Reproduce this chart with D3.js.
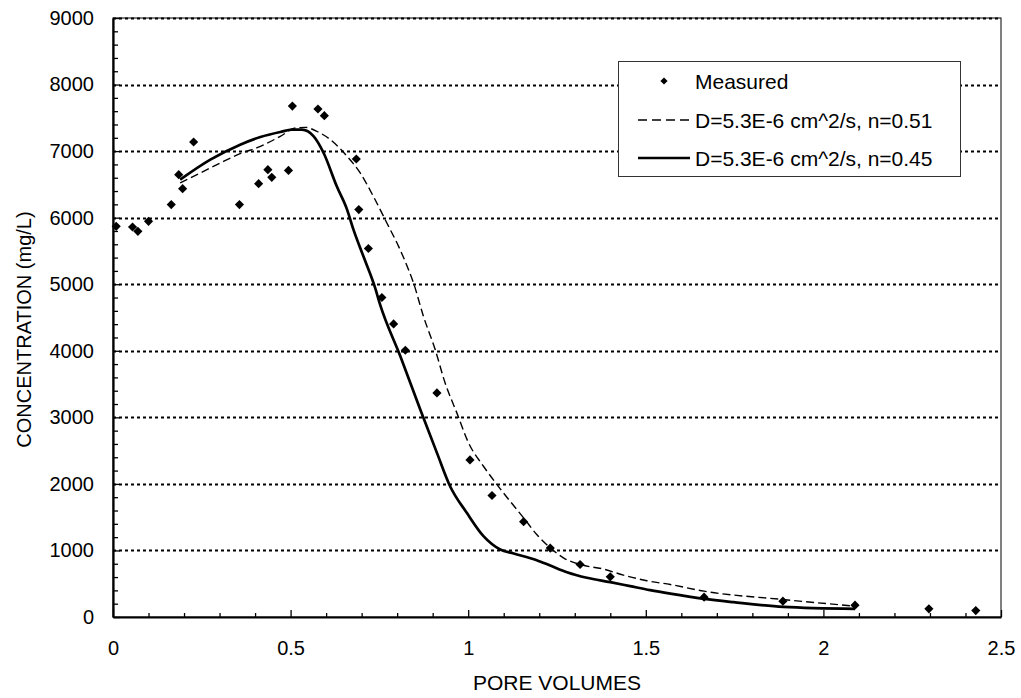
<!DOCTYPE html>
<html>
<head>
<meta charset="utf-8">
<script src="https://cdn.jsdelivr.net/npm/d3@7"></script>
<style>
  html, body { margin: 0; padding: 0; background: #fff; }
  svg { display: block; font-family: "Liberation Sans", Arial, sans-serif; }
</style>
</head>
<body>
<svg id="chart" width="1021" height="698"></svg>
<script>
// Measured effluent concentrations
const measuredX = [0.009, 0.055, 0.07, 0.10, 0.164, 0.185, 0.196, 0.227, 0.356, 0.41, 0.436, 0.447, 0.494, 0.505, 0.577, 0.595, 0.685, 0.692, 0.719, 0.757, 0.790, 0.823, 0.912, 1.005, 1.067, 1.156, 1.231, 1.315, 1.400, 1.664, 1.886, 2.089, 2.297, 2.429];
const measuredY = [5870, 5860, 5795, 5945, 6196, 6646, 6436, 7137, 6196, 6511, 6721, 6606, 6710, 7677, 7633, 7532, 6882, 6121, 5537, 4800, 4404, 4008, 3367, 2360, 1825, 1432, 1035, 789, 604, 298, 238, 178, 123, 97];

// Model curve, D=5.3E-6 cm^2/s, n=0.51
const modelAX = [0.189, 0.246, 0.302, 0.358, 0.415, 0.471, 0.513, 0.541, 0.574, 0.612, 0.659, 0.696, 0.733, 0.771, 0.804, 0.832, 0.846, 0.874, 0.907, 0.935, 0.968, 1.001, 1.043, 1.081, 1.118, 1.156, 1.193, 1.231, 1.268, 1.315, 1.381, 1.437, 1.503, 1.569, 1.664, 1.886, 2.089];
const modelAY = [6521, 6672, 6822, 6962, 7071, 7222, 7347, 7357, 7297, 7172, 6921, 6672, 6320, 5920, 5569, 5219, 5019, 4518, 4018, 3517, 3067, 2616, 2265, 1990, 1739, 1490, 1239, 1039, 889, 789, 720, 630, 545, 488, 388, 263, 163];

// Model curve, D=5.3E-6 cm^2/s, n=0.45
const modelBX = [0.189, 0.274, 0.358, 0.415, 0.471, 0.504, 0.532, 0.565, 0.593, 0.630, 0.659, 0.677, 0.705, 0.738, 0.752, 0.809, 0.865, 0.912, 0.949, 0.996, 1.043, 1.090, 1.128, 1.193, 1.231, 1.278, 1.334, 1.400, 1.456, 1.512, 1.569, 1.664, 1.747, 1.887, 2.089];
const modelBY = [6571, 6871, 7097, 7212, 7287, 7322, 7322, 7222, 6972, 6471, 6121, 5820, 5419, 4944, 4694, 3917, 3117, 2466, 1965, 1565, 1214, 1014, 954, 853, 773, 673, 589, 523, 463, 403, 350, 273, 223, 153, 123];

const xTicks = [0, 0.5, 1, 1.5, 2, 2.5];
const yTicks = [0, 1000, 2000, 3000, 4000, 5000, 6000, 7000, 8000, 9000];
const legendLabels = ["Measured", "D=5.3E-6 cm^2/s, n=0.51", "D=5.3E-6 cm^2/s, n=0.45"];
const xTitle = "PORE VOLUMES";
const yTitle = "CONCENTRATION (mg/L)";

const W = 1021, H = 698;
const margin = { left: 113, right: 20, top: 18, bottom: 81 };
const iw = W - margin.left - margin.right;
const ih = H - margin.top - margin.bottom;

const svg = d3.select("#chart");
svg.append("rect").attr("width", W).attr("height", H).attr("fill", "#fff");
const g = svg.append("g").attr("transform", `translate(${margin.left},${margin.top})`);

const x = d3.scaleLinear().domain([0, 2.5]).range([0, iw]);
const y = d3.scaleLinear().domain([0, 9000]).range([ih, 0]);

// plot frame (thin)
g.append("rect")
  .attr("x", 0).attr("y", 0).attr("width", iw).attr("height", ih)
  .attr("fill", "none").attr("stroke", "#000").attr("stroke-width", 1);

// dotted horizontal gridlines
g.append("g").selectAll("line")
  .data(yTicks.filter(v => v > 0))
  .join("line")
  .attr("x1", 0).attr("x2", iw)
  .attr("y1", d => Math.round(y(d)) + 0.5).attr("y2", d => Math.round(y(d)) + 0.5)
  .attr("stroke", "#000").attr("stroke-width", 2).attr("stroke-dasharray", "3,3");

// minor ticks
const xMinor = d3.range(0, 26).map(i => i / 10).filter(v => !xTicks.some(t => Math.abs(t - v) < 1e-9));
const yMinor = d3.range(0, 46).map(i => i * 200).filter(v => v % 1000 !== 0);

g.append("g").attr("transform", `translate(0,${ih})`)
  .call(d3.axisBottom(x).tickValues(xMinor).tickSize(-4).tickFormat(""))
  .call(s => s.select(".domain").remove())
  .selectAll("line").attr("stroke-width", 1.3);

g.append("g")
  .call(d3.axisLeft(y).tickValues(yMinor).tickSize(-5).tickFormat(""))
  .call(s => s.select(".domain").remove())
  .selectAll("line").attr("stroke-width", 1.3);

// major axes
const xAxis = g.append("g").attr("transform", `translate(0,${ih})`)
  .call(d3.axisBottom(x).tickValues(xTicks).tickSize(-7).tickSizeOuter(0).tickPadding(24).tickFormat(d3.format("")));
xAxis.select(".domain").attr("stroke-width", 2.2);
xAxis.selectAll(".tick line").attr("stroke-width", 1.3);
xAxis.selectAll("text").attr("font-size", 20).attr("fill", "#000")
  .attr("font-family", "Liberation Sans, Arial, sans-serif");

const yAxis = g.append("g")
  .call(d3.axisLeft(y).tickValues(yTicks).tickSize(-7).tickSizeOuter(0).tickPadding(19).tickFormat(d3.format("d")));
yAxis.select(".domain").attr("stroke-width", 2.2);
yAxis.selectAll(".tick line").attr("stroke-width", 1.3);
yAxis.selectAll("text").attr("font-size", 20).attr("fill", "#000")
  .attr("font-family", "Liberation Sans, Arial, sans-serif");

// axis titles
svg.append("text")
  .attr("x", margin.left + iw / 2).attr("y", 690)
  .attr("text-anchor", "middle").attr("font-size", 21).attr("fill", "#000")
  .text(xTitle);
svg.append("text")
  .attr("transform", `translate(31,${margin.top + ih / 2 + 12}) rotate(-90)`)
  .attr("text-anchor", "middle").attr("font-size", 20).attr("fill", "#000")
  .text(yTitle);

// model curves
const seriesA = modelAX.map((v, i) => [v, modelAY[i]]);
const seriesB = modelBX.map((v, i) => [v, modelBY[i]]);
const line = d3.line().x(d => x(d[0])).y(d => y(d[1])).curve(d3.curveMonotoneX);

g.append("path").datum(seriesA).attr("d", line)
  .attr("fill", "none").attr("stroke", "#000").attr("stroke-width", 1.4)
  .attr("stroke-dasharray", "8,4");
g.append("path").datum(seriesB).attr("d", line)
  .attr("fill", "none").attr("stroke", "#000").attr("stroke-width", 2.7);

// measured points (diamonds)
const diamond = d3.symbol().type(d3.symbolSquare).size(42);
g.append("g").selectAll("path")
  .data(measuredX.map((v, i) => [v, measuredY[i]]))
  .join("path")
  .attr("d", diamond)
  .attr("transform", d => `translate(${x(d[0])},${y(d[1])}) rotate(45)`)
  .attr("fill", "#000");

// legend
const lg = svg.append("g");
lg.append("rect").attr("x", 618.5).attr("y", 61.5).attr("width", 342).attr("height", 115)
  .attr("fill", "#fff").attr("stroke", "#333").attr("stroke-width", 1);
const rowY = [81, 120, 158];
lg.append("path").attr("d", d3.symbol().type(d3.symbolSquare).size(26)())
  .attr("transform", `translate(664,${rowY[0]}) rotate(45)`).attr("fill", "#000");
lg.append("line").attr("x1", 638).attr("x2", 690).attr("y1", rowY[1]).attr("y2", rowY[1])
  .attr("stroke", "#000").attr("stroke-width", 1.4).attr("stroke-dasharray", "9,5");
lg.append("line").attr("x1", 638).attr("x2", 690).attr("y1", rowY[2]).attr("y2", rowY[2])
  .attr("stroke", "#000").attr("stroke-width", 2.7);
lg.selectAll("text.lbl").data(legendLabels).join("text")
  .attr("class", "lbl")
  .attr("x", 695).attr("y", (d, i) => rowY[i]).attr("dy", "0.36em")
  .attr("font-size", 21).attr("fill", "#000")
  .text(d => d);
</script>
</body>
</html>
